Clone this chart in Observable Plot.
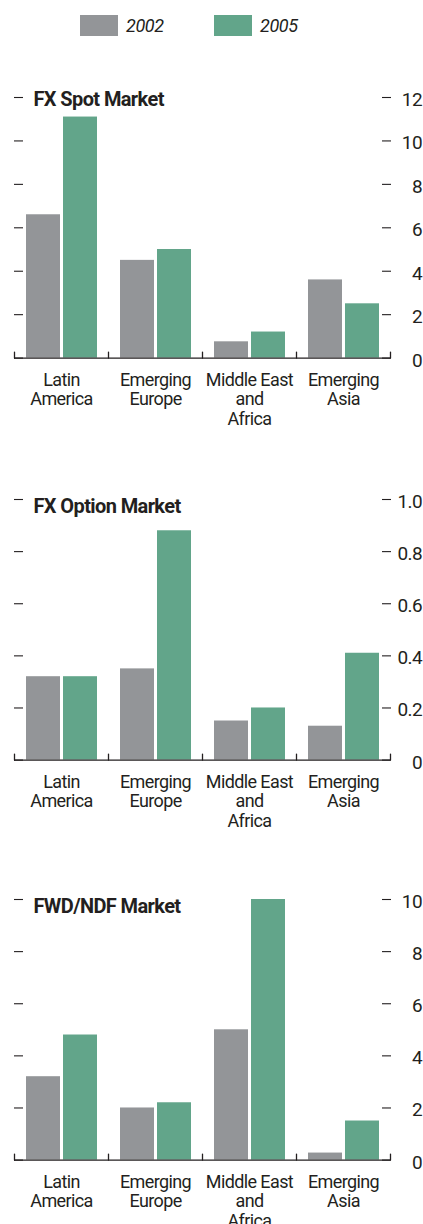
<!DOCTYPE html>
<html><head><meta charset="utf-8">
<script src="https://cdn.jsdelivr.net/npm/d3@7"></script>
<script src="https://cdn.jsdelivr.net/npm/@observablehq/plot@0.6"></script>
<style>
body{margin:0;background:#fff;}
#root{position:relative;width:423px;height:1224px;overflow:hidden;color:#231f20;}
#root svg{position:absolute;left:0;}
</style></head><body><div id="root"></div>
<script>
const regions = ["Latin America","Emerging Europe","Middle East and Africa","Emerging Asia"];
const regionLabels = ["Latin\nAmerica","Emerging\nEurope","Middle East\nand\nAfrica","Emerging\nAsia"];
const years = ["2002","2005"];
const colors = ["#939598","#62a58a"];
const titles = ["FX Spot Market","FX Option Market","FWD/NDF Market"];
const spot2002 = [6.6,4.5,0.75,3.6];
const spot2005 = [11.1,5.0,1.2,2.5];
const option2002 = [0.32,0.35,0.15,0.13];
const option2005 = [0.32,0.88,0.20,0.41];
const fwd2002 = [3.2,2.0,5.0,0.27];
const fwd2005 = [4.8,2.2,10.0,1.5];
const spotTicks = [0,2,4,6,8,10,12];
const optionTicks = [0,0.2,0.4,0.6,0.8,1.0];
const fwdTicks = [0,2,4,6,8,10];
const spotTickLabels = ["0","2","4","6","8","10","12"];
const optionTickLabels = ["0","0.2","0.4","0.6","0.8","1.0"];
const fwdTickLabels = ["0","2","4","6","8","10"];

const FONT = 'Roboto,"Liberation Sans",sans-serif';
const INK = "#231f20";
const root = document.getElementById("root");

// legend
const leg = d3.create("svg").attr("width",423).attr("height",50).style("top","0px");
const legX = [80,214];
years.forEach((y,i)=>{
  leg.append("rect").attr("x",legX[i]).attr("y",15).attr("width",38).attr("height",21).attr("fill",colors[i]);
  leg.append("text").attr("x",legX[i]+46).attr("y",31.5).text(y)
    .attr("font-family",FONT).attr("font-style","italic").attr("font-size",18)
    .attr("letter-spacing","-0.4px").attr("fill",INK);
});
root.appendChild(leg.node());

const panels = [
  {title:titles[0], a:spot2002, b:spot2005, ticks:spotTicks, labels:spotTickLabels, max:12, top:97.3, titleDy:8.4},
  {title:titles[1], a:option2002, b:option2005, ticks:optionTicks, labels:optionTickLabels, max:1.0, top:499.3, titleDy:13.4},
  {title:titles[2], a:fwd2002, b:fwd2005, ticks:fwdTicks, labels:fwdTickLabels, max:10, top:899.3, titleDy:13.4}
];

const MT = 40, PH = 260.6, MB = 80, W = 423, ML = 13, MR = 33;
const tickShape = {draw(ctx, l){ ctx.moveTo(0,0); ctx.lineTo(0,-l); }};

panels.forEach(p=>{
  const data = regions.flatMap((r,i)=>[
    {region:r, year:years[0], value:p.a[i]},
    {region:r, year:years[1], value:p.b[i]}
  ]);
  const fmt = new Map(p.ticks.map((t,i)=>[t,p.labels[i]]));
  const chart = Plot.plot({
    width: W, height: MT+PH+MB, marginTop: MT, marginBottom: MB, marginLeft: ML, marginRight: MR,
    style: {fontFamily: FONT, fontSize: "18px", letterSpacing: "-0.6px", color: INK, background: "transparent", overflow: "visible"},
    fx: {domain: regions, padding: 0, label: null},
    x: {domain: years, paddingInner: 0.088, paddingOuter: 0.31, axis: null},
    y: {domain: [0, p.max]},
    color: {domain: years, range: colors},
    marks: [
      Plot.barY(data, {fx:"region", x:"year", y:"value", fill:"year"}),
      Plot.ruleY([0], {stroke: INK, strokeWidth: 1.4}),
      Plot.vector([0], {frameAnchor:"bottom-left", length:6, rotate:0, anchor:"start", shape: tickShape, stroke: INK, strokeWidth:1.3}),
      Plot.vector([regions[regions.length-1]], {fx: d=>d, frameAnchor:"bottom-right", length:6, rotate:0, anchor:"start", shape: tickShape, stroke: INK, strokeWidth:1.3}),
      Plot.axisY(p.ticks, {anchor:"left", tickSize:-9, tickFormat: ()=>"", stroke: INK, strokeWidth:1.1, label:null}),
      Plot.axisY(p.ticks, {anchor:"right", tickSize:-9, tickFormat: ()=>"", stroke: INK, strokeWidth:1.1, label:null}),
      Plot.axisY(p.ticks, {anchor:"right", tickSize:0, tickPadding:31.5, textAnchor:"end", dy:2.4, fontSize:19, tickFormat: d=>fmt.get(d), fill: INK, label:null}),
      Plot.axisFx({anchor:"bottom", tickSize:0, tickPadding:13.9, lineHeight:1.08, tickFormat: d=>regionLabels[regions.indexOf(d)], fill: INK, label:null}),
      Plot.text([{r: regions[0], t: p.title}], {fx:"r", text:"t", frameAnchor:"top-left", dx:19, dy:p.titleDy, textAnchor:"start", lineAnchor:"bottom", fontWeight:"bold", fontSize:20, fill: INK})
    ]
  });
  chart.style.top = (p.top - MT) + "px";
  root.appendChild(chart);
});
</script></body></html>
